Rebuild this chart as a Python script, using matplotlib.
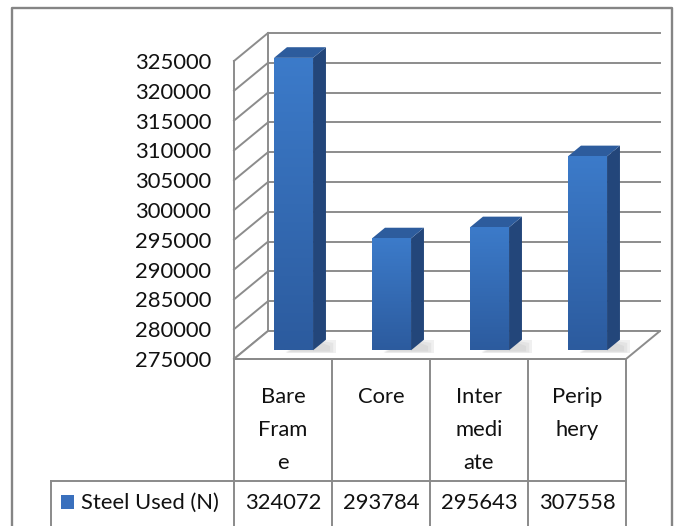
import numpy as np
import matplotlib
matplotlib.use("Agg")
import matplotlib.pyplot as plt
from matplotlib import transforms as mtrans
from matplotlib.patches import Polygon, Rectangle
from matplotlib.colors import LinearSegmentedColormap

# ---------------- data ----------------
categories = ["Bare Frame", "Core", "Intermediate", "Periphery"]
category_labels = ["Bare\nFram\ne", "Core", "Inter\nmedi\nate", "Perip\nhery"]
steel_used = [324072, 293784, 295643, 307558]
series_name = "Steel Used (N)"
y_min, y_max, y_step = 275000, 325000, 5000
y_ticks = list(range(y_min, y_max + 1, y_step))

# ---------------- style ----------------
FONT = ["Lato", "DejaVu Sans"]
FS = 15.8
GRID = "#8c8c8c"
TEXT = "#111111"
plt.rcParams["font.family"] = FONT

W, H = 678, 526
fig = plt.figure(figsize=(W / 100, H / 100), dpi=100)
fig.patch.set_facecolor("white")

# front plane of the 3D plot
AX_L, AX_R, AX_T, AX_B = 234, 626, 61, 359
ax = fig.add_axes([AX_L / W, 1 - AX_B / H, (AX_R - AX_L) / W, (AX_B - AX_T) / H])
n = len(categories)
ax.set_xlim(0, n)
ax.set_ylim(y_min, y_max)
for s in ax.spines.values():
    s.set_visible(False)
ax.set_facecolor("none")
ax.set_xticks([])
ax.set_yticks(y_ticks)
ax.set_yticklabels([str(t) for t in y_ticks], fontsize=FS, color=TEXT)
ax.tick_params(axis="y", length=0, pad=16.5)

# depth (pixels -> data units)
x_per_px = n / (AX_R - AX_L)
y_per_px = (y_max - y_min) / (AX_B - AX_T)
DX = 34 * x_per_px
DY = 28 * y_per_px

# side wall + back wall gridlines
for t in y_ticks:
    ax.plot([0, DX], [t, t + DY], color=GRID, lw=1.4, clip_on=False, zorder=1)
    ax.plot([DX, n + DX], [t + DY, t + DY], color=GRID, lw=1.4, clip_on=False, zorder=1)
ax.plot([0, 0], [y_min, y_max], color=GRID, lw=1.4, clip_on=False, zorder=1)
ax.plot([DX, DX], [y_min + DY, y_max + DY], color=GRID, lw=1.4, clip_on=False, zorder=1)

# floor
floor = Polygon([(0, y_min), (n, y_min), (n + DX, y_min + DY), (DX, y_min + DY)],
                closed=True, facecolor="white", edgecolor=GRID, lw=1.4,
                clip_on=False, zorder=2)
ax.add_patch(floor)

# bars
bar_w = 39 * x_per_px
f0, f1 = 0.31, 0.69
front_cmap = LinearSegmentedColormap.from_list("front", ["#2c5b9e", "#3c7bca"])
grad = np.linspace(0, 1, 256).reshape(-1, 1)
for i, v in enumerate(steel_used):
    cx = i + 0.5
    x0 = cx - bar_w / 2 + f0 * DX
    oy0 = f0 * DY
    ddx = (f1 - f0) * DX
    ddy = (f1 - f0) * DY
    # soft shadow on floor
    for k, a in enumerate([0.18, 0.18, 0.18]):
        g = 1 - 0.3 * k
        sh = Polygon([(x0 + bar_w * 0.3, y_min + oy0 - 500 * g),
                      (x0 + bar_w + ddx * (1 + 0.8 * g), y_min + oy0 - 500 * g),
                      (x0 + bar_w + ddx * (1 + 0.8 * g), y_min + oy0 + ddy * g),
                      (x0 + bar_w, y_min + oy0 + ddy)],
                     closed=True, facecolor="#b0b0b0", edgecolor="none", alpha=a,
                     clip_on=False, zorder=3)
        ax.add_patch(sh)
    rect = Rectangle((x0, y_min + oy0), bar_w, v - y_min, facecolor="#3468b4",
                     edgecolor="none", clip_on=False, zorder=4)
    ax.add_patch(rect)
    im = ax.imshow(grad, extent=[x0, x0 + bar_w, y_min + oy0, v + oy0],
                   origin="lower", aspect="auto", cmap=front_cmap, zorder=4.1,
                   interpolation="bilinear")
    im.set_clip_path(rect)
    side = Polygon([(x0 + bar_w, y_min + oy0), (x0 + bar_w + ddx, y_min + oy0 + ddy),
                    (x0 + bar_w + ddx, v + oy0 + ddy), (x0 + bar_w, v + oy0)],
                   closed=True, facecolor="#23467a", edgecolor="none",
                   clip_on=False, zorder=4)
    ax.add_patch(side)
    top = Polygon([(x0, v + oy0), (x0 + bar_w, v + oy0),
                   (x0 + bar_w + ddx, v + oy0 + ddy), (x0 + ddx, v + oy0 + ddy)],
                  closed=True, facecolor="#2d5c9d", edgecolor="none",
                  clip_on=False, zorder=4)
    ax.add_patch(top)

ax.set_xlim(0, n)
ax.set_ylim(y_min, y_max)

# ---------------- data table ----------------
px = mtrans.Affine2D().scale(1 / W, -1 / H).translate(0, 1) + fig.transFigure
bx = mtrans.blended_transform_factory(ax.transData, px)
LINE = "#8a8a8a"
ROW1_T, ROW2_T, BOTTOM = 359, 481, 540
for k in range(n + 1):
    ax.plot([k, k], [ROW1_T, BOTTOM], transform=bx, color=LINE, lw=1.4, clip_on=False)
ax.plot([0, n], [ROW1_T, ROW1_T], transform=bx, color=LINE, lw=1.4, clip_on=False)
fig.add_artist(plt.Line2D([51, AX_R], [ROW2_T, ROW2_T], transform=px, color=LINE, lw=1.4))
fig.add_artist(plt.Line2D([51, 51], [ROW2_T, BOTTOM], transform=px, color=LINE, lw=1.4))

for i, lab in enumerate(category_labels):
    for j, line in enumerate(lab.split("\n")):
        ax.text(i + 0.5, 397 + 33 * j, line, transform=bx, ha="center", va="center",
                fontsize=FS, color=TEXT, clip_on=False)
for i, v in enumerate(steel_used):
    ax.text(i + 0.5, 503, str(v), transform=bx, ha="center", va="center",
            fontsize=FS, color=TEXT, clip_on=False)

fig.add_artist(Rectangle((61, 509), 13, -14, transform=px, facecolor="#3a70bd",
                         edgecolor="none"))
fig.text(81, 503, series_name, transform=px, ha="left", va="center",
         fontsize=FS, color=TEXT)

# outer chart frame
FRAME = "#858585"
fig.add_artist(plt.Line2D([12, 12, 672, 672], [540, 8, 8, 540], transform=px,
                          color=FRAME, lw=1.7))

fig.savefig("out.png", dpi=100, facecolor="white")
